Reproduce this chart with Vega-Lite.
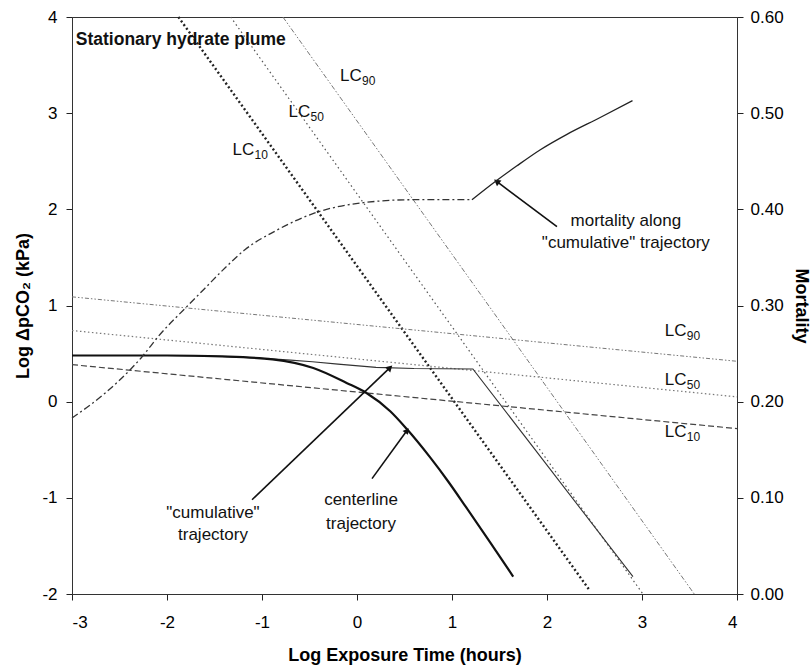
{
  "$schema": "https://vega.github.io/schema/vega-lite/v6.json",
  "width": 665,
  "height": 577,
  "autosize": {"type": "none"},
  "padding": {"left": 72, "top": 17, "right": 74, "bottom": 76},
  "background": "white",
  "config": {
    "view": {"stroke": "#333", "strokeWidth": 1},
    "font": "Liberation Sans",
    "axis": {
      "labelFont": "Liberation Sans", "titleFont": "Liberation Sans",
      "labelColor": "black", "titleColor": "black",
      "tickColor": "#222", "domainColor": "#333",
      "grid": false, "labelFontSize": 17, "titleFontSize": 18,
      "titleFontWeight": "bold", "tickSize": 6
    }
  },
  "datasets": {
    "lines": [
      {"series": "LC10 steep", "x": -1.88, "y": 4},
      {"series": "LC10 steep", "x": 2.44, "y": -1.95},
      {"series": "LC50 steep", "x": -1.33, "y": 4},
      {"series": "LC50 steep", "x": 3.01, "y": -2},
      {"series": "LC90 steep", "x": -0.78, "y": 4},
      {"series": "LC90 steep", "x": 3.55, "y": -2},
      {"series": "LC90 shallow", "x": -3, "y": 1.09},
      {"series": "LC90 shallow", "x": 4, "y": 0.42},
      {"series": "LC50 shallow", "x": -3, "y": 0.74},
      {"series": "LC50 shallow", "x": 4, "y": 0.05},
      {"series": "LC10 shallow", "x": -3, "y": 0.385},
      {"series": "LC10 shallow", "x": 4, "y": -0.28},
      {"series": "cumulative", "x": -3, "y": 0.48},
      {"series": "cumulative", "x": -2, "y": 0.48},
      {"series": "cumulative", "x": -1.42, "y": 0.47},
      {"series": "cumulative", "x": -1.1, "y": 0.458},
      {"series": "cumulative", "x": -0.9, "y": 0.445},
      {"series": "cumulative", "x": -0.7, "y": 0.432},
      {"series": "cumulative", "x": -0.47, "y": 0.415},
      {"series": "cumulative", "x": -0.2, "y": 0.39},
      {"series": "cumulative", "x": 0.2, "y": 0.357},
      {"series": "cumulative", "x": 0.6, "y": 0.345},
      {"series": "cumulative", "x": 1.22, "y": 0.34},
      {"series": "cumulative", "x": 2.905, "y": -1.82},
      {"series": "centerline", "x": -3, "y": 0.48},
      {"series": "centerline", "x": -2, "y": 0.48},
      {"series": "centerline", "x": -1.42, "y": 0.47},
      {"series": "centerline", "x": -0.89, "y": 0.44},
      {"series": "centerline", "x": -0.46, "y": 0.35},
      {"series": "centerline", "x": -0.11, "y": 0.195},
      {"series": "centerline", "x": 0.1, "y": 0.09},
      {"series": "centerline", "x": 0.35, "y": -0.1},
      {"series": "centerline", "x": 0.52, "y": -0.28},
      {"series": "centerline", "x": 0.77, "y": -0.58},
      {"series": "centerline", "x": 0.96, "y": -0.83},
      {"series": "centerline", "x": 1.15, "y": -1.1},
      {"series": "centerline", "x": 1.4, "y": -1.46},
      {"series": "centerline", "x": 1.645, "y": -1.82}
    ],
    "mortality": [
      {"part": "dashdot", "x": -3.0, "m": 0.183},
      {"part": "dashdot", "x": -2.65, "m": 0.209},
      {"part": "dashdot", "x": -2.39, "m": 0.233},
      {"part": "dashdot", "x": -2.26, "m": 0.247},
      {"part": "dashdot", "x": -2.09, "m": 0.268},
      {"part": "dashdot", "x": -1.79, "m": 0.299},
      {"part": "dashdot", "x": -1.6, "m": 0.318},
      {"part": "dashdot", "x": -1.39, "m": 0.339},
      {"part": "dashdot", "x": -1.18, "m": 0.358},
      {"part": "dashdot", "x": -0.85, "m": 0.378},
      {"part": "dashdot", "x": -0.45, "m": 0.396},
      {"part": "dashdot", "x": 0.07, "m": 0.407},
      {"part": "dashdot", "x": 0.59, "m": 0.41},
      {"part": "dashdot", "x": 1.21, "m": 0.41},
      {"part": "solid", "x": 1.21, "m": 0.41},
      {"part": "solid", "x": 1.47, "m": 0.43},
      {"part": "solid", "x": 1.68, "m": 0.445},
      {"part": "solid", "x": 1.93, "m": 0.462},
      {"part": "solid", "x": 2.21, "m": 0.478},
      {"part": "solid", "x": 2.56, "m": 0.4955},
      {"part": "solid", "x": 2.9, "m": 0.513}
    ],
    "arrows": [
      {"id": "cumulative", "x": -1.105, "y": -1.02, "x2": 0.347, "y2": 0.354},
      {"id": "centerline", "x": 0.158, "y": -0.8, "x2": 0.526, "y2": -0.3},
      {"id": "mortality", "x": 2.105, "y": 1.82, "x2": 1.47, "y2": 2.29}
    ],
    "lc_labels": [
      {"x": -0.179, "y": 3.385, "label": "LC", "sub": "90"},
      {"x": -0.72, "y": 3.01, "label": "LC", "sub": "50"},
      {"x": -1.31, "y": 2.615, "label": "LC", "sub": "10"},
      {"x": 3.24, "y": 0.733, "label": "LC", "sub": "90"},
      {"x": 3.24, "y": 0.229, "label": "LC", "sub": "50"},
      {"x": 3.24, "y": -0.318, "label": "LC", "sub": "10"}
    ],
    "notes": [
      {"x": -1.516, "y": -1.16, "label": "\"cumulative\""},
      {"x": -1.516, "y": -1.385, "label": "trajectory"},
      {"x": 0.042, "y": -1.02, "label": "centerline"},
      {"x": 0.042, "y": -1.27, "label": "trajectory"},
      {"x": 2.83, "y": 1.875, "label": "mortality along"},
      {"x": 2.83, "y": 1.646, "label": "\"cumulative\" trajectory"}
    ],
    "title_note": [
      {"x": -2.96, "y": 3.76, "label": "Stationary hydrate plume"}
    ]
  },
  "layer": [
    {
      "encoding": {
        "x": {"field": "x", "type": "quantitative",
              "scale": {"domain": [-3, 4], "nice": false},
              "axis": {"values": [-3, -2, -1, 0, 1, 2, 3, 4], "title": "Log Exposure Time (hours)",
                       "labelExpr": "'' + datum.value",
                       "labelPadding": 14, "titlePadding": 16}},
        "y": {"field": "y", "type": "quantitative",
              "scale": {"domain": [-2, 4], "nice": false},
              "axis": {"values": [-2, -1, 0, 1, 2, 3, 4], "title": "Log ΔpCO₂ (kPa)", "orient": "left",
                       "labelExpr": "'' + datum.value",
                       "labelPadding": 9, "titlePadding": 9}}
      },
      "layer": [
        {"data": {"name": "lines"}, "transform": [{"filter": "datum.series == 'LC10 steep'"}],
         "mark": {"type": "line", "color": "#222", "strokeWidth": 2.4, "strokeDash": [2, 2.5]}},
        {"data": {"name": "lines"}, "transform": [{"filter": "datum.series == 'LC50 steep'"}],
         "mark": {"type": "line", "color": "#555", "strokeWidth": 1.2, "strokeDash": [1.5, 3]}},
        {"data": {"name": "lines"}, "transform": [{"filter": "datum.series == 'LC90 steep'"}],
         "mark": {"type": "line", "color": "#777", "strokeWidth": 1, "strokeDash": [5, 2, 1.5, 2, 1.5, 2]}},
        {"data": {"name": "lines"}, "transform": [{"filter": "datum.series == 'LC90 shallow'"}],
         "mark": {"type": "line", "color": "#777", "strokeWidth": 1, "strokeDash": [4, 2, 1.5, 2, 1.5, 2]}},
        {"data": {"name": "lines"}, "transform": [{"filter": "datum.series == 'LC50 shallow'"}],
         "mark": {"type": "line", "color": "#777", "strokeWidth": 1.2, "strokeDash": [1.5, 2.5]}},
        {"data": {"name": "lines"}, "transform": [{"filter": "datum.series == 'LC10 shallow'"}],
         "mark": {"type": "line", "color": "#444", "strokeWidth": 1.2, "strokeDash": [6, 3]}},
        {"data": {"name": "lines"}, "transform": [{"filter": "datum.series == 'cumulative'"}],
         "mark": {"type": "line", "color": "#333", "strokeWidth": 1.1}},
        {"data": {"name": "lines"}, "transform": [{"filter": "datum.series == 'centerline'"}],
         "mark": {"type": "line", "color": "#111", "strokeWidth": 2.2, "interpolate": "monotone"}},
        {"data": {"name": "arrows"},
         "mark": {"type": "rule", "color": "#111", "strokeWidth": 1.6},
         "encoding": {"x2": {"field": "x2"}, "y2": {"field": "y2"}}},
        {"data": {"name": "arrows"}, "transform": [{"filter": "datum.id == 'cumulative'"}],
         "mark": {"type": "point", "shape": "triangle-up", "filled": true, "color": "#111", "size": 55, "angle": 46, "opacity": 1},
         "encoding": {"x": {"field": "x2", "type": "quantitative"}, "y": {"field": "y2", "type": "quantitative"}}},
        {"data": {"name": "arrows"}, "transform": [{"filter": "datum.id == 'centerline'"}],
         "mark": {"type": "point", "shape": "triangle-up", "filled": true, "color": "#111", "size": 45, "angle": 36, "opacity": 1},
         "encoding": {"x": {"field": "x2", "type": "quantitative"}, "y": {"field": "y2", "type": "quantitative"}}},
        {"data": {"name": "arrows"}, "transform": [{"filter": "datum.id == 'mortality'"}],
         "mark": {"type": "point", "shape": "triangle-up", "filled": true, "color": "#111", "size": 55, "angle": -53, "opacity": 1},
         "encoding": {"x": {"field": "x2", "type": "quantitative"}, "y": {"field": "y2", "type": "quantitative"}}},
        {"data": {"name": "lc_labels"},
         "mark": {"type": "text", "align": "left", "baseline": "middle", "fontSize": 17, "color": "#111"},
         "encoding": {"text": {"field": "label"}}},
        {"data": {"name": "lc_labels"},
         "mark": {"type": "text", "align": "left", "baseline": "middle", "fontSize": 12, "dx": 22, "dy": 5, "color": "#111"},
         "encoding": {"text": {"field": "sub"}}},
        {"data": {"name": "notes"},
         "mark": {"type": "text", "align": "center", "baseline": "middle", "fontSize": 17, "color": "#111"},
         "encoding": {"text": {"field": "label"}}},
        {"data": {"name": "title_note"},
         "mark": {"type": "text", "align": "left", "baseline": "middle", "fontSize": 17.5, "fontWeight": "bold", "color": "#111"},
         "encoding": {"text": {"field": "label"}}}
      ]
    },
    {
      "data": {"name": "mortality"},
      "encoding": {
        "x": {"field": "x", "type": "quantitative",
              "scale": {"domain": [-3, 4], "nice": false},
              "axis": {"values": [-3, -2, -1, 0, 1, 2, 3, 4], "title": "Log Exposure Time (hours)",
                       "labelExpr": "'' + datum.value",
                       "labelPadding": 14, "titlePadding": 16}},
        "y": {"field": "m", "type": "quantitative",
              "scale": {"domain": [0, 0.6], "nice": false},
              "axis": {"values": [0, 0.1, 0.2, 0.3, 0.4, 0.5, 0.6], "format": ".2f", "title": "Mortality", "orient": "right",
                       "labelPadding": 7, "titlePadding": 8}}
      },
      "layer": [
        {"transform": [{"filter": "datum.part == 'dashdot'"}],
         "mark": {"type": "line", "color": "#333", "strokeWidth": 1.3, "strokeDash": [7, 3, 2, 3], "interpolate": "monotone"}},
        {"transform": [{"filter": "datum.part == 'solid'"}],
         "mark": {"type": "line", "color": "#222", "strokeWidth": 1.3, "interpolate": "monotone"}}
      ]
    }
  ],
  "resolve": {"scale": {"y": "independent"}}
}
